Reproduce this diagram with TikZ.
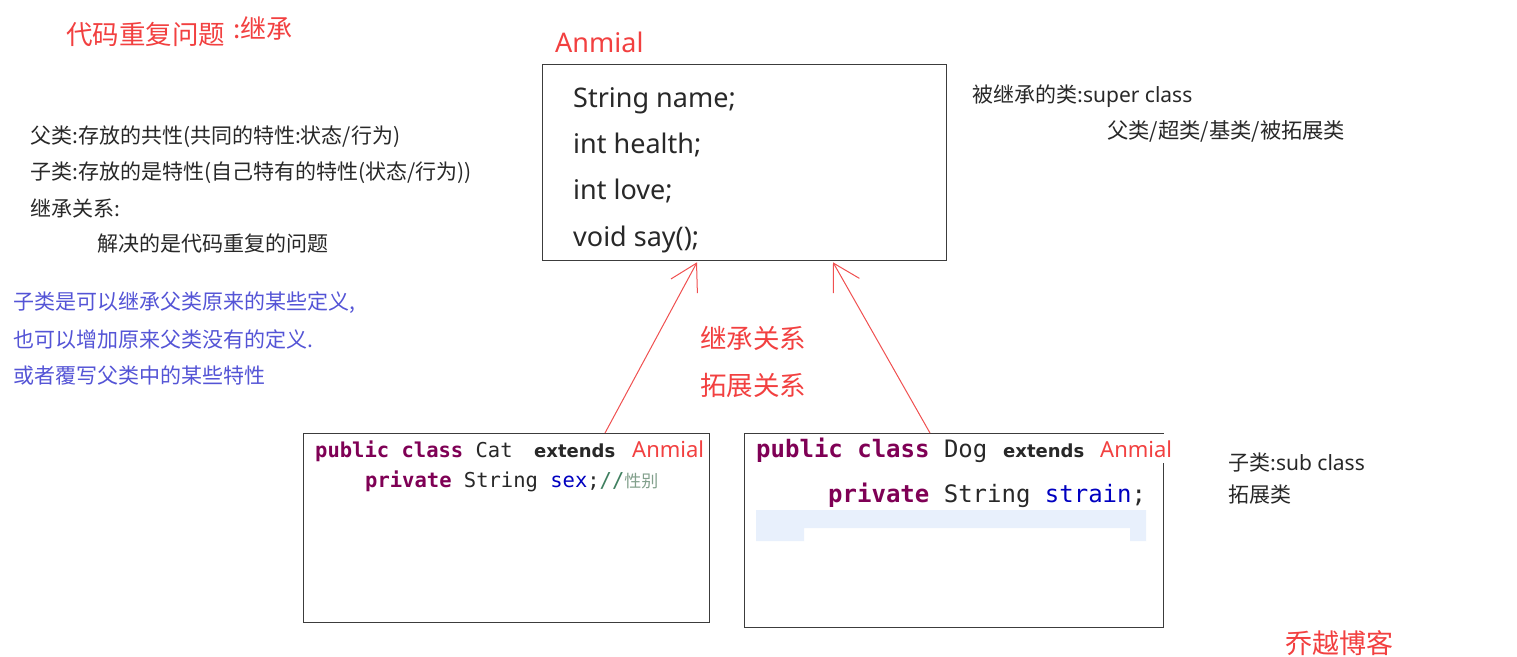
\documentclass[tikz,border=0pt]{standalone}
\usepackage{fontspec}
\setmainfont{Noto Sans CJK SC}
\newfontfamily\lat{Noto Sans}
\newfontfamily\latb{DejaVu Sans}
\newfontfamily\mono{DejaVu Sans Mono}
\newfontfamily\cjk{Noto Sans CJK SC}
\usetikzlibrary{arrows.meta,calc}
\definecolor{tred}{RGB}{242,64,64}
\definecolor{tdark}{RGB}{40,40,40}
\definecolor{tblue}{RGB}{84,84,214}
\definecolor{kw}{RGB}{127,0,85}
\definecolor{fld}{RGB}{0,0,192}
\definecolor{cmt}{RGB}{63,127,95}
\definecolor{cmtcjk}{RGB}{130,160,140}
\definecolor{hl}{RGB}{232,240,252}
\definecolor{arr}{RGB}{240,80,80}
\definecolor{bord}{RGB}{60,60,60}
\newcommand\fs[1]{\fontsize{#1}{#1}\selectfont}
\begin{document}
\begin{tikzpicture}[x=1pt,y=-1pt,
  txt/.style={anchor=west,inner sep=0pt,text=tdark,font=\fs{21}},
  btxt/.style={txt,text=tblue},
  rtxt/.style={txt,text=tred,font=\fs{26.5}},
  lat/.style={anchor=base west,inner sep=0pt,text=tdark,font=\lat\fs{27}},
  code/.style={anchor=base west,inner sep=0pt,text=tdark},
  box/.style={draw=bord,line width=1.3pt,fill=white,anchor=north west,inner sep=0pt},
  inh/.style={draw=arr,line width=1pt,-{Straight Barb[length=26pt,width=30pt]}}
]
\useasboundingbox[fill=white] (0,0) rectangle (1517,656);

% title
\node[rtxt] (title) at (66,34) {代码重复问题};
\node[rtxt,font=\fs{26}] (titleb) at (233,28) {:继承};

% left description
\node[txt] (d1) at (30,136.5) {父类:存放的共性(共同的特性:状态/行为)};
\node[txt] (d2) at (30,173) {子类:存放的是特性(自己特有的特性(状态/行为))};
\node[txt] (d3) at (30,208) {继承关系:};
\node[txt] (d4) at (97,244) {解决的是代码重复的问题};
\node[btxt] (b1) at (13,303) {子类是可以继承父类原来的某些定义,};
\node[btxt] (b2) at (13,340) {也可以增加原来父类没有的定义.};
\node[btxt] (b3) at (13,376) {或者覆写父类中的某些特性};

% super class box
\node[lat,text=tred] (anmlabel) at (555,52) {Anmial};
\node[box,minimum width=404pt,minimum height=196pt] (anm) at (542,64) {};
\node[lat] (f1) at (573,107) {String name;};
\node[lat] (f2) at (573,153) {int health;};
\node[lat] (f3) at (573,199) {int love;};
\node[lat] (f4) at (573,246) {void say();};

% right notes
\node[txt] (sup1) at (972,96) {被继承的类:{\lat super class}};
\node[txt,font=\fs{21.3}] (sup2) at (1107,131) {父类/超类/基类/被拓展类};
\node[txt] (sub1) at (1228,463) {子类:{\lat sub class}};
\node[txt] (sub2) at (1228,495) {拓展类};

% relation labels
\node[rtxt] (rel1) at (700,338) {继承关系};
\node[rtxt] (rel2) at (700,385) {拓展关系};

% Cat box
\node[box,minimum width=406pt,minimum height=189pt] (cat) at (303,433) {};
\node[code,font=\mono\fs{20.5}] (catkw) at (315,457) {{\bfseries\color{kw}public class }Cat};
\node[code,font=\latb\bfseries\fs{18}] (catext) at (534,457) {extends};
\node[code,font=\lat\fs{22},text=tred,fill=white,inner xsep=4pt,inner ysep=6pt] (catsup) at (628,457) {Anmial};
\node[code,font=\mono\fs{20.5}] (catl2) at (365,487) {{\bfseries\color{kw}private} String {\color{fld}sex};{\color{cmt}//}{\cjk\fs{17}\color{cmtcjk}性别}};

% Dog box
\node[box,minimum width=419pt,minimum height=194pt] (dog) at (744,433) {};
\fill[hl] (756,510) -- (1146,510) -- (1146,541) -- (1130,541) -- (1130,528) -- (804,528) -- (804,541) -- (756,541) -- cycle;
\node[code,font=\mono\fs{24}] (dogkw) at (756,457) {{\bfseries\color{kw}public class }Dog};
\node[code,font=\latb\bfseries\fs{18}] (dogext) at (1003,457) {extends};
\node[code,font=\lat\fs{22},text=tred,fill=white,inner xsep=4pt,inner ysep=6pt] (dogsup) at (1096,457) {Anmial};
\node[code,font=\mono\fs{24}] (dogl2) at (828,502) {{\bfseries\color{kw}private} String {\color{fld}strain};};

% inheritance arrows
\draw[inh] ($(cat.north west)+(302,0)$) -- ($(anm.south west)+(155,1)$);
\draw[inh] ($(dog.north west)+(186,0)$) -- ($(anm.south west)+(291,1)$);

% watermark
\node[txt,text=tred,font=\fs{27}] (wm) at (1285,643) {乔越博客};
\end{tikzpicture}
\end{document}
